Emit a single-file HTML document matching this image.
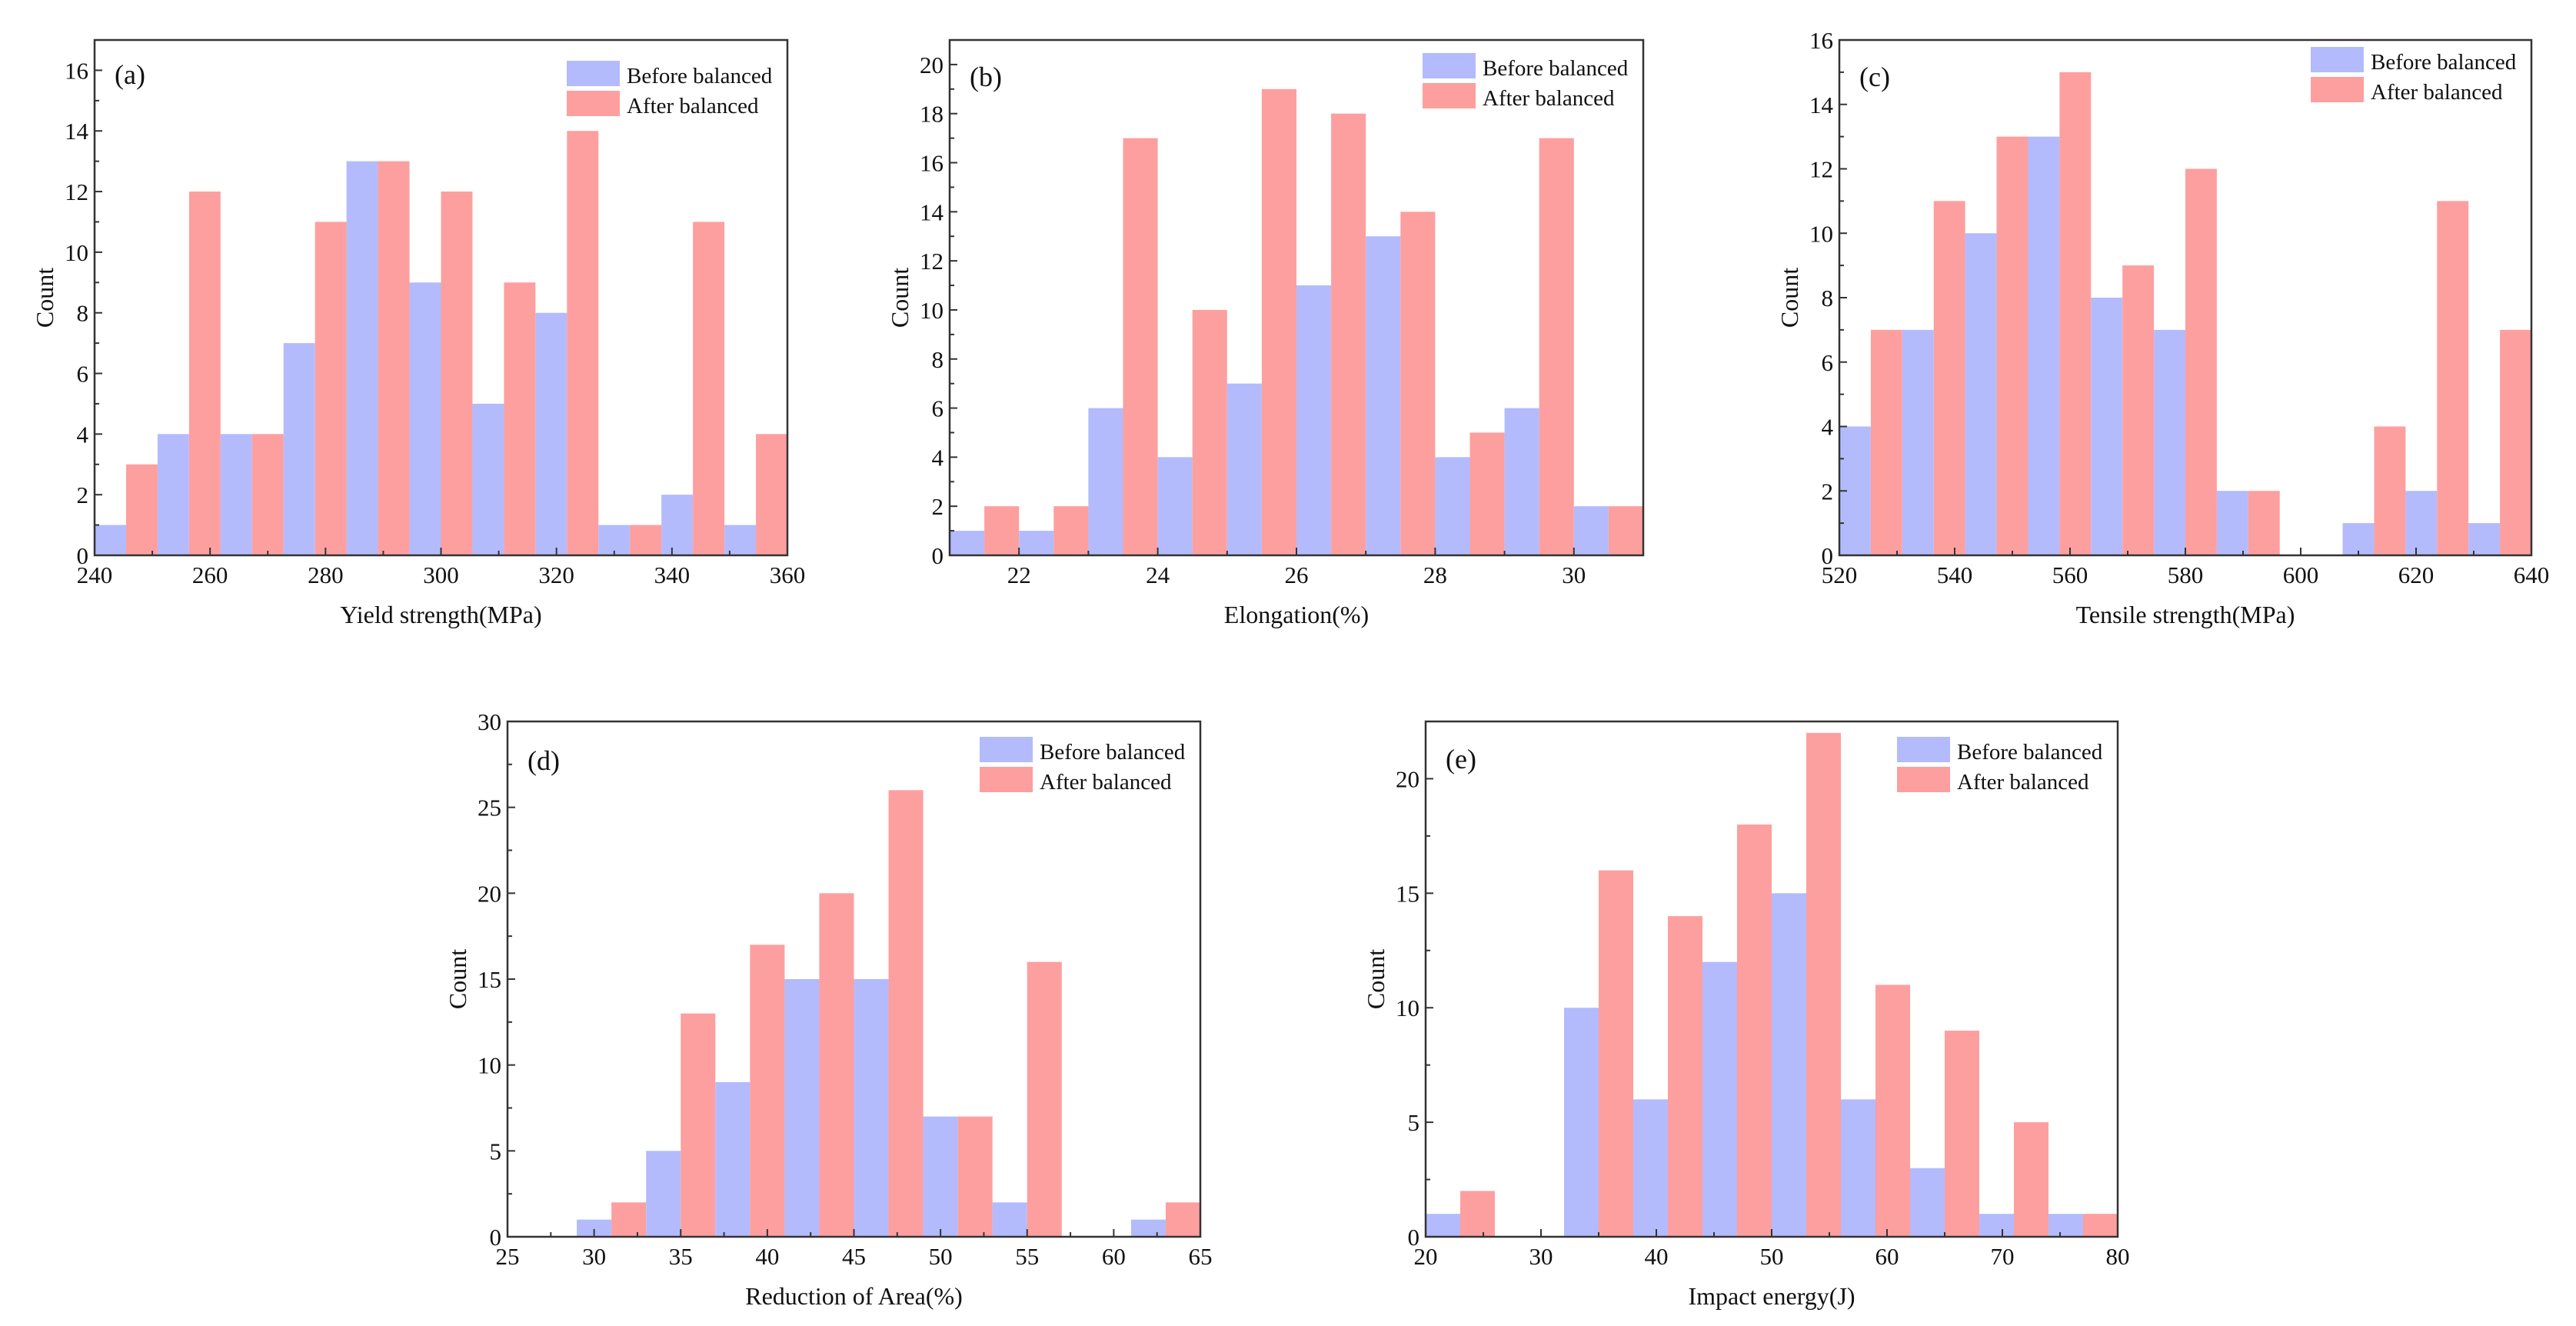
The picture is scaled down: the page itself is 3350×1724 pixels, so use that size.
<!DOCTYPE html>
<html><head><meta charset="utf-8"><style>
html,body{margin:0;padding:0;background:#fff;}
svg{display:block;font-family:"Liberation Serif",serif;}
svg text{font-family:"Liberation Serif",serif;}
</style></head><body>
<svg id="fig" xmlns="http://www.w3.org/2000/svg" width="3350" height="1724" viewBox="0 0 3350 1724" font-family="Liberation Serif, serif">
<rect width="3350" height="1724" fill="#fff"/>
</svg>
<script>
// Panel (a) Yield strength
const aBefore = [1,4,4,7,13,9,5,8,1,2,1];
const aAfter  = [3,12,4,11,13,12,9,14,1,11,4];
const aXTicks = [240,260,280,300,320,340,360];
const aYTicks = [0,2,4,6,8,10,12,14,16];
// Panel (b) Elongation
const bBefore = [1,1,6,4,7,11,13,4,6,2];
const bAfter  = [2,2,17,10,19,18,14,5,17,2];
const bXTicks = [22,24,26,28,30];
const bYTicks = [0,2,4,6,8,10,12,14,16,18,20];
// Panel (c) Tensile strength
const cBefore = [4,7,10,13,8,7,2,0,1,2,1];
const cAfter  = [7,11,13,15,9,12,2,0,4,11,7];
const cXTicks = [520,540,560,580,600,620,640];
const cYTicks = [0,2,4,6,8,10,12,14,16];
// Panel (d) Reduction of area
const dBefore = [0,1,5,9,15,15,7,2,0,1];
const dAfter  = [0,2,13,17,20,26,7,16,0,2];
const dXTicks = [25,30,35,40,45,50,55,60,65];
const dYTicks = [0,5,10,15,20,25,30];
// Panel (e) Impact energy
const eBefore = [1,0,10,6,12,15,6,3,1,1];
const eAfter  = [2,0,16,14,18,22,11,9,5,1];
const eXTicks = [20,30,40,50,60,70,80];
const eYTicks = [0,5,10,15,20];

const NS = "http://www.w3.org/2000/svg";
const svg = document.getElementById('fig');
const BLUE = "#b3bbfc", RED = "#fd9f9f";
const FONT = "Liberation Serif, serif";

function mk(tag, attrs, parent){
  const e = document.createElementNS(NS, tag);
  for (const k in attrs) e.setAttribute(k, attrs[k]);
  if (tag === 'text') e.setAttribute('font-family', FONT);
  (parent||svg).appendChild(e);
  return e;
}

function panel(p){
  const g = mk('g', {});
  
  
  const L=p.L, R=p.R, T=p.T, B=p.B;
  const sx = v => L + (v - p.xmin) / (p.xmax - p.xmin) * (R - L);
  const sy = v => B - v / p.ymax * (B - T);
  const n = p.before.length;
  const bw = (p.xmax - p.xmin) / n;
  for (let i = 0; i < n; i++) {
    const x0 = p.xmin + i * bw, xm = x0 + bw / 2, x1 = x0 + bw;
    if (p.before[i] > 0) {
      const r = mk('rect', {x: sx(x0), y: sy(p.before[i]), width: sx(xm) - sx(x0), height: B - sy(p.before[i]), fill: BLUE}, g);
      
      
    }
    if (p.after[i] > 0) {
      const r = mk('rect', {x: sx(xm), y: sy(p.after[i]), width: sx(x1) - sx(xm), height: B - sy(p.after[i]), fill: RED}, g);
      
      
    }
  }
  const fr = mk('rect', {x: L, y: T, width: R - L, height: B - T, fill: 'none', stroke: '#333', 'stroke-width': 2.5}, g);
  
  
  for (let k = 0; k < p.xt.length; k++) {
    const v = p.xt[k], x = sx(v);
    mk('line', {x1: x, y1: B, x2: x, y2: B - 10, stroke: '#333', 'stroke-width': 2}, g);
    if (k < p.xt.length - 1) {
      const xmid = sx((v + p.xt[k+1]) / 2);
      mk('line', {x1: xmid, y1: B, x2: xmid, y2: B - 6, stroke: '#333', 'stroke-width': 2}, g);
    }
    const t = mk('text', {x: x, y: B + 36, 'font-size': 31, 'text-anchor': 'middle', fill: '#111'}, g);
    t.textContent = v;
    
    
  }
  for (let k = 0; k < p.yt.length; k++) {
    const v = p.yt[k], y = sy(v);
    mk('line', {x1: L, y1: y, x2: L + 10, y2: y, stroke: '#333', 'stroke-width': 2}, g);
    const step = p.yt[1] - p.yt[0];
    const ym = sy(v + step / 2);
    if (v + step / 2 <= p.ymax) mk('line', {x1: L, y1: ym, x2: L + 6, y2: ym, stroke: '#333', 'stroke-width': 2}, g);
    const t = mk('text', {x: L - 8, y: y + 11, 'font-size': 31, 'text-anchor': 'end', fill: '#111'}, g);
    t.textContent = v;
    
    
  }
  const xt = mk('text', {x: (L + R) / 2, y: B + 88, 'font-size': 32, 'text-anchor': 'middle', fill: '#111'}, g);
  xt.textContent = p.xlabel;
  
  
  const cy = (T + B) / 2;
  const yt = mk('text', {x: L - 54, y: cy, 'font-size': 32, 'text-anchor': 'middle', fill: '#111', transform: 'rotate(-90 ' + (L - 54) + ' ' + cy + ')'}, g);
  yt.textContent = 'Count';
  
  
  const pl = mk('text', {x: L + 26, y: T + p.lblY, 'font-size': 36, fill: '#111'}, g);
  pl.textContent = '(' + p.id + ')';
  
  
  const lx = R - 287, ly = T + p.legY;
  const s1 = mk('rect', {x: lx, y: ly, width: 69, height: 33, fill: BLUE}, g);
  
  
  const s2 = mk('rect', {x: lx, y: ly + 39, width: 69, height: 33, fill: RED}, g);
  
  
  const t1 = mk('text', {x: lx + 78, y: ly + 29, 'font-size': 29, fill: '#111'}, g);
  t1.textContent = 'Before balanced';
  
  
  const t2 = mk('text', {x: lx + 78, y: ly + 68, 'font-size': 29, fill: '#111'}, g);
  t2.textContent = 'After balanced';
  
  
}

panel({id:'a', L:123, R:1024, T:52, B:722, xmin:240, xmax:360, ymax:17, before:aBefore, after:aAfter, xt:aXTicks, yt:aYTicks, xlabel:'Yield strength(MPa)', legY:27, lblY:57});
panel({id:'b', L:1235, R:2137, T:52, B:722, xmin:21, xmax:31, ymax:21, before:bBefore, after:bAfter, xt:bXTicks, yt:bYTicks, xlabel:'Elongation(%)', legY:17, lblY:60});
panel({id:'c', L:2392, R:3292, T:52, B:722, xmin:520, xmax:640, ymax:16, before:cBefore, after:cAfter, xt:cXTicks, yt:cYTicks, xlabel:'Tensile strength(MPa)', legY:9, lblY:60});
panel({id:'d', L:660, R:1561, T:938, B:1608, xmin:25, xmax:65, ymax:30, before:dBefore, after:dAfter, xt:dXTicks, yt:dYTicks, xlabel:'Reduction of Area(%)', legY:20, lblY:63});
panel({id:'e', L:1854, R:2754, T:938, B:1608, xmin:20, xmax:80, ymax:22.5, before:eBefore, after:eAfter, xt:eXTicks, yt:eYTicks, xlabel:'Impact energy(J)', legY:20, lblY:61});
</script>
</body></html>
